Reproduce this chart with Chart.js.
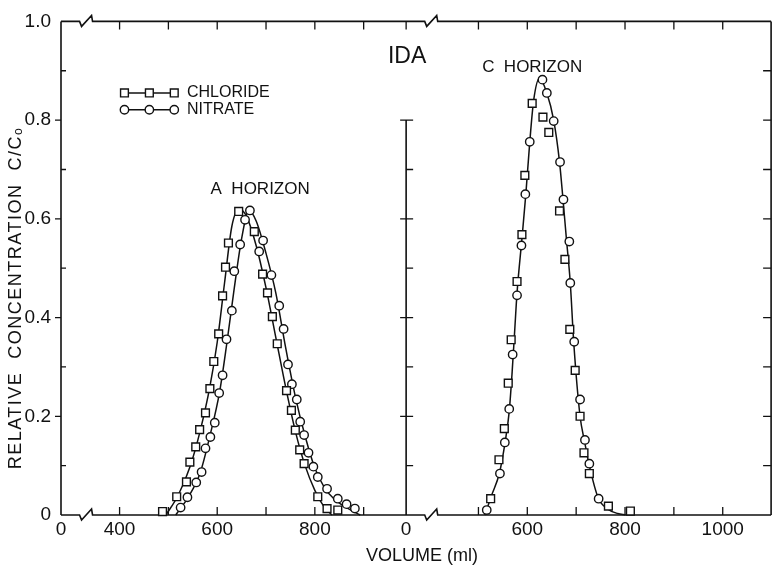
<!DOCTYPE html>
<html>
<head>
<meta charset="utf-8">
<script src="https://cdn.jsdelivr.net/npm/chart.js@4.4.1/dist/chart.umd.min.js"></script>
<style>
  html, body { margin: 0; padding: 0; background: #fff; }
  #wrap { width: 778px; height: 567px; position: relative; }
</style>
</head>
<body>
<div id="wrap"><canvas id="grafico"></canvas></div>
<script>
// A horizon - chloride (quadrados)
const clA_vol  = [488, 517, 537, 544, 556, 564, 576, 585, 593, 603, 611, 617, 623, 644, 676, 693, 703, 713, 723, 742, 752, 760, 769, 778, 806, 825, 847];
const clA_conc = [0.007, 0.037, 0.067, 0.107, 0.138, 0.173, 0.207, 0.256, 0.311, 0.367, 0.444, 0.502, 0.551, 0.615, 0.574, 0.488, 0.450, 0.402, 0.347, 0.252, 0.212, 0.172, 0.132, 0.104, 0.037, 0.013, 0.010];
// A horizon - nitrate (circulos)
const noA_vol  = [525, 539, 557, 568, 576, 586, 595, 604, 611, 619, 630, 635, 647, 657, 667, 686, 694, 711, 727, 736, 745, 753, 763, 770, 778, 787, 797, 806, 825, 847, 865, 882];
const noA_conc = [0.015, 0.036, 0.066, 0.087, 0.135, 0.158, 0.187, 0.247, 0.283, 0.356, 0.414, 0.494, 0.548, 0.598, 0.617, 0.534, 0.556, 0.486, 0.424, 0.377, 0.305, 0.265, 0.234, 0.189, 0.162, 0.126, 0.098, 0.077, 0.053, 0.033, 0.022, 0.013];
// curvas ajustadas do A horizon
const clA_curvaVol  = [495, 520, 545, 565, 585, 600, 615, 630, 645, 660, 680, 700, 720, 740, 760, 780, 800, 820, 835];
const clA_curvaConc = [0, 0.04, 0.10, 0.17, 0.26, 0.35, 0.47, 0.585, 0.62, 0.605, 0.545, 0.46, 0.36, 0.26, 0.17, 0.10, 0.05, 0.015, 0];
const noA_curvaVol  = [515, 540, 565, 585, 605, 620, 635, 650, 665, 680, 700, 720, 740, 760, 780, 800, 820, 840, 865, 893];
const noA_curvaConc = [0, 0.035, 0.085, 0.16, 0.25, 0.35, 0.46, 0.56, 0.618, 0.595, 0.53, 0.45, 0.34, 0.24, 0.16, 0.095, 0.055, 0.032, 0.015, 0];

// C horizon
const clC_vol  = [525, 542, 553, 561, 567, 579, 589, 595, 610, 632, 644, 666, 677, 687, 698, 708, 716, 727, 766, 811];
const clC_conc = [0.033, 0.112, 0.175, 0.267, 0.355, 0.473, 0.568, 0.688, 0.834, 0.806, 0.775, 0.616, 0.518, 0.376, 0.293, 0.200, 0.126, 0.084, 0.018, 0.008];
const noC_vol  = [517, 544, 554, 563, 570, 579, 588, 596, 605, 631, 640, 654, 667, 674, 686, 688, 696, 708, 718, 727, 746];
const noC_conc = [0.010, 0.084, 0.147, 0.215, 0.325, 0.445, 0.546, 0.650, 0.756, 0.882, 0.855, 0.798, 0.715, 0.639, 0.554, 0.470, 0.351, 0.234, 0.152, 0.104, 0.033];
const C_curvaVol  = [513, 527, 543, 555, 563, 569, 574, 579, 589, 597, 605, 613, 625, 640, 654, 666, 673, 680, 688, 695, 708, 717, 727, 745, 765, 785, 801];
const C_curvaConc = [0, 0.04, 0.085, 0.15, 0.21, 0.29, 0.37, 0.45, 0.56, 0.65, 0.755, 0.84, 0.885, 0.855, 0.80, 0.715, 0.64, 0.56, 0.47, 0.35, 0.20, 0.15, 0.10, 0.035, 0.012, 0.003, 0];

// eixos (o "0" de cada painel fica antes da quebra)
const ticksA = [280, 400, 500, 600, 700, 800, 900];
const ticksC = [352, 500, 600, 700, 800, 900, 1000];
const rotulosX = [400, 600, 800, 1000];

const pontos = (xs, ys) => xs.map((x, i) => ({ x: x, y: ys[i] }));
const FONTE = '"Liberation Sans", Arial, sans-serif';
const COR = '#111';

function marcadores(label, xs, ys, eixo, estilo) {
    return {
        label: label,
        data: pontos(xs, ys),
        xAxisID: eixo,
        pointStyle: estilo,
        pointRadius: estilo === 'rect' ? 5.5 : 4.2,
        pointBorderWidth: 1.4,
        pointBorderColor: COR,
        pointBackgroundColor: '#fff',
        showLine: false,
        clip: false,
        order: 0
    };
}

function curva(xs, ys, eixo) {
    return {
        data: pontos(xs, ys),
        xAxisID: eixo,
        showLine: true,
        pointRadius: 0,
        borderColor: COR,
        borderWidth: 1.5,
        cubicInterpolationMode: 'monotone',
        fill: false,
        clip: false,
        order: 1
    };
}

// moldura, quebras e marcas de escala, como no original
const decoracao = {
    id: 'decoracao',
    beforeDatasetsDraw(chart) {
        const { ctx, chartArea: a, scales } = chart;
        const sy = scales.y, sa = scales.xA, sc = scales.xC;
        const meio = sc.left;
        const quebras = [sa.getPixelForValue(318), sc.getPixelForValue(390)];
        ctx.save();
        ctx.strokeStyle = COR;
        ctx.lineWidth = 1.6;

        const linhaComQuebra = (yy) => {
            ctx.beginPath();
            ctx.moveTo(a.left, yy);
            quebras.forEach(q => {
                ctx.lineTo(q, yy);
                ctx.lineTo(q + 2, yy + 5);
                ctx.lineTo(q + 12, yy - 6);
                ctx.lineTo(q + 13, yy);
            });
            ctx.lineTo(a.right, yy);
            ctx.stroke();
        };
        linhaComQuebra(a.top);
        linhaComQuebra(a.bottom);

        ctx.beginPath();
        ctx.moveTo(a.left, a.top); ctx.lineTo(a.left, a.bottom);
        ctx.moveTo(a.right, a.top); ctx.lineTo(a.right, a.bottom);
        ctx.moveTo(meio, sy.getPixelForValue(0.8)); ctx.lineTo(meio, a.bottom);
        ctx.stroke();

        ctx.lineWidth = 1.3;
        ctx.beginPath();
        sy.ticks.forEach(t => {
            const k = Math.round(t.value * 10);
            if (k === 0 || k === 10) return;
            const py = sy.getPixelForValue(t.value);
            const maior = k % 2 === 0;
            if (maior) { ctx.moveTo(a.left - 6, py); ctx.lineTo(a.left, py); }
            else { ctx.moveTo(a.left, py); ctx.lineTo(a.left + 5, py); }
            ctx.moveTo(a.right, py); ctx.lineTo(a.right - 8, py);
            if (k <= 8) {
                ctx.moveTo(maior ? meio - 6 : meio, py);
                ctx.lineTo(meio + 7, py);
            }
        });
        [sa, sc].forEach(s => {
            s.ticks.slice(1).forEach(t => {
                const px = s.getPixelForValue(t.value);
                ctx.moveTo(px, a.bottom); ctx.lineTo(px, a.bottom - 8);
                ctx.moveTo(px, a.top); ctx.lineTo(px, a.top + 8);
            });
        });
        ctx.moveTo(meio, a.top); ctx.lineTo(meio, a.top + 8);
        ctx.stroke();
        ctx.restore();
    },
    afterDraw(chart) {
        const { ctx, scales } = chart;
        const sy = scales.y, sa = scales.xA, sc = scales.xC;
        ctx.save();
        ctx.fillStyle = COR;
        ctx.strokeStyle = COR;
        ctx.textBaseline = 'middle';
        ctx.textAlign = 'center';

        ctx.font = '23px ' + FONTE;
        ctx.fillText('IDA', sc.getPixelForValue(354), sy.getPixelForValue(0.928));
        ctx.font = '17px ' + FONTE;
        ctx.fillText('C  HORIZON', sc.getPixelForValue(610), sy.getPixelForValue(0.906));
        ctx.fillText('A  HORIZON', sa.getPixelForValue(688), sy.getPixelForValue(0.659));

        // legenda
        const lx = [410, 461, 512].map(v => sa.getPixelForValue(v));
        const linhas = [
            { y: sy.getPixelForValue(0.855), estilo: 'rect', texto: 'CHLORIDE' },
            { y: sy.getPixelForValue(0.821), estilo: 'circle', texto: 'NITRATE' }
        ];
        linhas.forEach(l => {
            ctx.lineWidth = 1.4;
            ctx.beginPath();
            ctx.moveTo(lx[0], l.y); ctx.lineTo(lx[2], l.y);
            ctx.stroke();
            lx.forEach(px => {
                ctx.beginPath();
                if (l.estilo === 'rect') ctx.rect(px - 3.9, l.y - 3.9, 7.8, 7.8);
                else ctx.arc(px, l.y, 4.2, 0, Math.PI * 2);
                ctx.fillStyle = '#fff';
                ctx.fill();
                ctx.stroke();
            });
            ctx.fillStyle = COR;
            ctx.textAlign = 'left';
            ctx.font = '16px ' + FONTE;
            ctx.fillText(l.texto, sa.getPixelForValue(538), l.y);
        });

        // titulos dos eixos
        ctx.textAlign = 'center';
        ctx.font = '18px ' + FONTE;
        ctx.fillText('VOLUME (ml)', 422, 556);
        ctx.save();
        ctx.translate(16, 298);
        ctx.rotate(-Math.PI / 2);
        ctx.letterSpacing = '1.5px';
        ctx.fillText('RELATIVE  CONCENTRATION  C/C\u2092', 0, 0);
        ctx.restore();
        ctx.restore();
    }
};

function eixoX(minimo, maximo, peso, ticks, zero) {
    return {
        type: 'linear',
        position: 'bottom',
        stack: 'volume',
        stackWeight: peso,
        min: minimo,
        max: maximo,
        grid: { display: false, drawTicks: false, tickLength: 0 },
        border: { display: false },
        afterBuildTicks: s => { s.ticks = ticks.map(v => ({ value: v })); },
        afterFit: s => { s.height = 52; },
        ticks: {
            autoSkip: false,
            maxRotation: 0,
            padding: 3,
            color: COR,
            font: { size: 19, family: FONTE },
            callback: v => v === zero ? '0' : (rotulosX.includes(v) ? String(v) : '')
        }
    };
}

new Chart(document.getElementById('grafico'), {
    type: 'scatter',
    data: {
        datasets: [
            marcadores('CHLORIDE', clA_vol, clA_conc, 'xA', 'rect'),
            marcadores('NITRATE', noA_vol, noA_conc, 'xA', 'circle'),
            marcadores('CHLORIDE', clC_vol, clC_conc, 'xC', 'rect'),
            marcadores('NITRATE', noC_vol, noC_conc, 'xC', 'circle'),
            curva(clA_curvaVol, clA_curvaConc, 'xA'),
            curva(noA_curvaVol, noA_curvaConc, 'xA'),
            curva(C_curvaVol, C_curvaConc, 'xC')
        ]
    },
    options: {
        responsive: true,
        maintainAspectRatio: false,
        animation: false,
        layout: { padding: { top: 16, right: 1, left: 0, bottom: 0 } },
        plugins: { legend: { display: false }, tooltip: { enabled: false } },
        scales: {
            xA: eixoX(280, 987, 348, ticksA, 280),
            xC: eixoX(352, 1099, 368, ticksC, 352),
            y: {
                min: 0,
                max: 1,
                grid: { display: false, drawTicks: false, tickLength: 0 },
                border: { display: false },
                afterFit: s => { s.width = 61; },
                ticks: {
                    stepSize: 0.1,
                    autoSkip: false,
                    padding: 10,
                    color: COR,
                    font: { size: 19, family: FONTE },
                    callback: v => {
                        const k = Math.round(v * 10);
                        if (k % 2) return '';
                        return k === 0 ? '0' : (k / 10).toFixed(1);
                    }
                }
            }
        }
    },
    plugins: [decoracao]
});
</script>
</body>
</html>
